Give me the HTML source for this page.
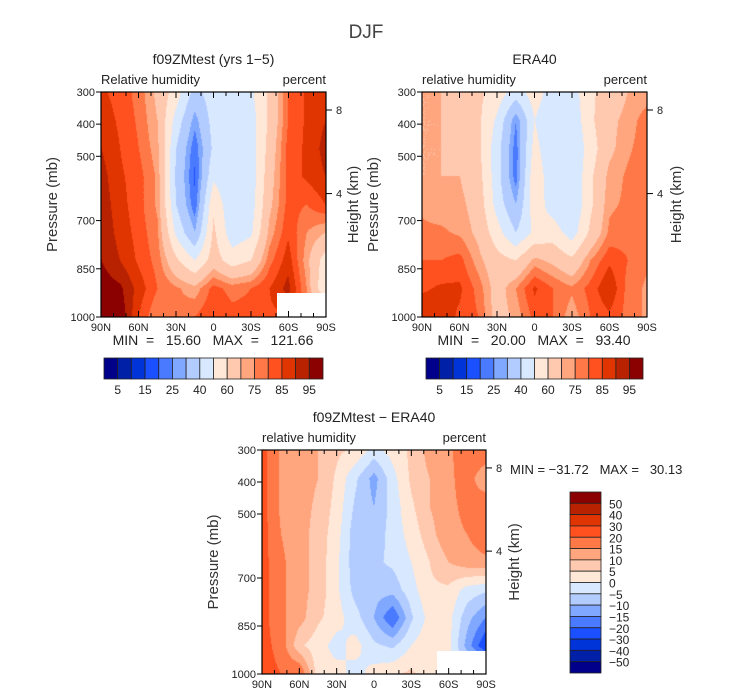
<!DOCTYPE html>
<html><head><meta charset="utf-8">
<style>
body{margin:0;background:#fff;width:733px;height:699px;overflow:hidden;position:relative;font-family:"Liberation Sans",sans-serif}
canvas{position:absolute}
svg{position:absolute;left:0;top:0;white-space:pre}
</style></head>
<body>
<canvas id="c1" width="225" height="225" style="left:101px;top:92px"></canvas>
<canvas id="c2" width="225" height="225" style="left:422px;top:92px"></canvas>
<canvas id="c3" width="224" height="224" style="left:262px;top:450px"></canvas>
<svg id="ov" width="733" height="699"></svg>
<script>
const palette=["#00008a","#0020a8","#0033d8","#1a50ff","#4a7aff","#80a8ff","#b3ccff","#d8e8ff","#ffe8d8","#ffc9b0","#ffa67e","#ff7848","#ff5020","#e03500","#b82200","#8b0000"];
const rhLevels=[5,10,15,20,25,30,40,50,60,70,75,80,85,90,95];
const diffLevels=[-50,-40,-30,-20,-15,-10,-5,0,5,10,15,20,30,40,50];
const latitudes=[90,75,60,45,30,15,0,-15,-30,-45,-60,-75,-90];
const pressures=[300,387.5,475,562.5,650,737.5,825,912.5,1000];
const modelRH=[
[86,83,78,68,55,36,46,47,48,62,80,86,88],
[88,84,79,70,46,27,44,44,45,62,80,86,90],
[90,85,80,72,40,21,42,42,44,64,82,86,92],
[92,86,82,74,38,19,48,42,44,66,82,86,90],
[93,87,82,74,40,21,58,42,45,68,82,80,85],
[94,88,83,76,48,30,62,44,48,72,84,75,70],
[95,90,84,78,62,50,65,55,60,78,88,72,55],
[98,96,88,80,76,72,82,78,80,85,92,75,50],
[99,99,85,75,76,80,85,82,82,84,84,80,80]];
const eraRH=[
[70,70,68,62,56,45,55,45,45,58,65,70,72],
[70,70,68,62,48,25,50,40,42,58,68,72,78],
[70,70,68,62,44,22,54,40,40,55,68,74,78],
[70,70,70,64,44,22,58,42,40,58,72,76,78],
[74,72,72,66,46,30,56,45,40,58,74,76,78],
[76,76,74,68,54,40,52,55,45,62,76,78,78],
[80,80,82,72,64,60,72,68,62,75,84,80,76],
[84,86,86,78,66,75,86,80,76,82,90,78,74],
[90,88,84,80,66,72,82,80,72,80,84,78,74]];
const diffRH=[
[22,14,12,10,6,4,-2,2,6,12,14,18,18],
[22,14,12,10,4,-4,-12,-2,6,10,14,17,12],
[22,14,12,9,3,-6,-10,-3,4,10,14,16,18],
[22,15,12,8,2,-8,-8,-3,2,8,14,15,18],
[22,16,12,8,1,-8,-6,-4,0,5,10,13,14],
[22,16,12,8,1,-7,-8,-8,-2,4,4,-2,-4],
[22,16,12,6,2,-3,-10,-20,-6,2,2,-8,-15],
[22,18,6,2,-2,2,-4,-6,0,4,2,-12,-25],
[22,20,20,2,2,-2,2,4,6,2,0,0,0]];
const pressTicks=[300,400,500,700,850,1000];
const latTicks=["90N","60N","30N","0","30S","60S","90S"];
const heightTicks=[{km:8,p:356},{km:4,p:616}];
const rhBarLabels=["5","15","25","40","60","75","85","95"];
const diffBarLabels=["50","40","30","20","15","10","5","0","\u22125","\u221210","\u221215","\u221220","\u221230","\u221240","\u221250"];

function colorIdx(v,lev){let i=0;while(i<lev.length&&v>=lev[i])i++;return i;}
function interp(grid,lat,p){
  let fx=(90-lat)/15, fy=(p-300)/87.5;
  let i=Math.min(11,Math.floor(fx)), j=Math.min(7,Math.floor(fy));
  let tx=fx-i, ty=fy-j;
  return grid[j][i]*(1-tx)*(1-ty)+grid[j][i+1]*tx*(1-ty)+grid[j+1][i]*(1-tx)*ty+grid[j+1][i+1]*tx*ty;
}
function drawField(id,grid,lev){
  const c=document.getElementById(id),ctx=c.getContext('2d'),W=c.width,H=c.height;
  for(let y=0;y<H;y++)for(let x=0;x<W;x++){
    const lat=90-180*x/(W-1), p=300+700*y/(H-1);
    ctx.fillStyle=palette[colorIdx(interp(grid,lat,p),lev)];
    ctx.fillRect(x,y,1,1);
  }
}
drawField('c1',modelRH,rhLevels);
drawField('c2',eraRH,rhLevels);
drawField('c3',diffRH,diffLevels);

const NS="http://www.w3.org/2000/svg",ov=document.getElementById('ov');
function el(tag,attrs,txt){const e=document.createElementNS(NS,tag);for(const k in attrs)e.setAttribute(k,attrs[k]);if(txt!==undefined)e.textContent=txt;ov.appendChild(e);return e;}
function txt(x,y,s,size,anchor,name,extra){const t=el('text',Object.assign({x:x,y:y,'font-size':size,'text-anchor':anchor||'middle',fill:'#222','font-family':'Liberation Sans, sans-serif'},extra||{}),s);


return t;}

el('text',{x:366,y:38,'font-size':19,'text-anchor':'middle',fill:'#444'},'DJF');

function panel(px,py,w,h,title,sub,pfx,whiteRect,hasHeight,hLabelX){
  if(whiteRect){const r=el('rect',{x:whiteRect[0],y:whiteRect[1],width:whiteRect[2],height:whiteRect[3],fill:'#fff'});
  
  }
  const b=el('rect',{x:px,y:py,width:w,height:h,fill:'none',stroke:'#000','stroke-width':1.2});
  
  
  txt(px+w/2,py-28,title,14,'middle',pfx+'-title');
  txt(px,py-8,sub,13,'start',pfx+'-subtitle');
  txt(px+w,py-8,'percent',13,'end',pfx+'-units');
  const ys=p=>py+(p-300)/700*h, xs=lat=>px+(90-lat)/180*w;
  pressTicks.forEach(p=>{el('line',{x1:px-5,x2:px,y1:ys(p),y2:ys(p),stroke:'#000'});
    txt(px-6,ys(p)+4,String(p),11,'end',pfx+'-y-tick-label');});
  for(let lat=90;lat>=-90;lat-=10){const len=(lat%30===0)?6:4;
    el('line',{x1:xs(lat),x2:xs(lat),y1:py,y2:py+len,stroke:'#000'});
    el('line',{x1:xs(lat),x2:xs(lat),y1:py+h,y2:py+h-len,stroke:'#000'});}
  latTicks.forEach((s,i)=>txt(px+i*w/6,py+h+14,s,11,'middle',pfx+'-x-tick-label'));
  txt(0,0,'Pressure (mb)',15,'middle',pfx+'-y-axis-title',{transform:`translate(${px-44},${py+h/2}) rotate(-90)`,fill:'#333'});
  heightTicks.forEach(t=>{el('line',{x1:px+w,x2:px+w+6,y1:ys(t.p),y2:ys(t.p),stroke:'#000'});
    txt(px+w+10,ys(t.p)+4,String(t.km),11,'start',pfx+'-height-tick-label');});
  txt(0,0,'Height (km)',15,'middle',pfx+'-right-axis-title',{transform:`translate(${hLabelX},${py+h/2}) rotate(-90)`,fill:'#333'});
}
panel(101,92,225,225,'f09ZMtest (yrs 1\u22125)','Relative humidity','model',[277,293,49,24],true,358);
panel(422,92,225,225,'ERA40','relative humidity','era40',null,true,681);
panel(262,450,224,224,'f09ZMtest \u2212 ERA40','relative humidity','diff',[437,651,49,23],true,519);

txt(213,345,'MIN\u00a0\u00a0=\u00a0\u00a0\u00a015.60\u00a0\u00a0\u00a0MAX\u00a0\u00a0=\u00a0\u00a0\u00a0121.66',14,'middle','model-min-max');
txt(534,345,'MIN\u00a0\u00a0=\u00a0\u00a0\u00a020.00\u00a0\u00a0\u00a0MAX\u00a0\u00a0=\u00a0\u00a0\u00a093.40',14,'middle','era40-min-max');
txt(510,474,'MIN\u00a0=\u00a0\u221231.72\u00a0\u00a0\u00a0MAX\u00a0=\u00a0\u00a0\u00a030.13',13,'start','diff-min-max');

function hbar(x0,y0,w,h,pfx){const bw=w/16;
  palette.forEach((c,i)=>{const r=el('rect',{x:x0+i*bw,y:y0,width:bw,height:h,fill:c,stroke:'#222','stroke-width':0.8});
  
  });
  rhBarLabels.forEach((s,k)=>txt(x0+(2*k+1)*bw,y0+h+15,s,12,'middle',pfx+'-colorbar-label'));}
hbar(104,358,219,21,'model');
hbar(426,358,217,21,'era40');
(function(){const x0=570,y0=492,w=31,h=181,bh=h/16;
  for(let i=0;i<16;i++){const r=el('rect',{x:x0,y:y0+i*bh,width:w,height:bh,fill:palette[15-i],stroke:'#222','stroke-width':0.8});
  
  }
  diffBarLabels.forEach((s,k)=>txt(x0+w+8,y0+(k+1)*bh+5,s,12,'start','diff-colorbar-label'));})();
</script>
</body></html>
